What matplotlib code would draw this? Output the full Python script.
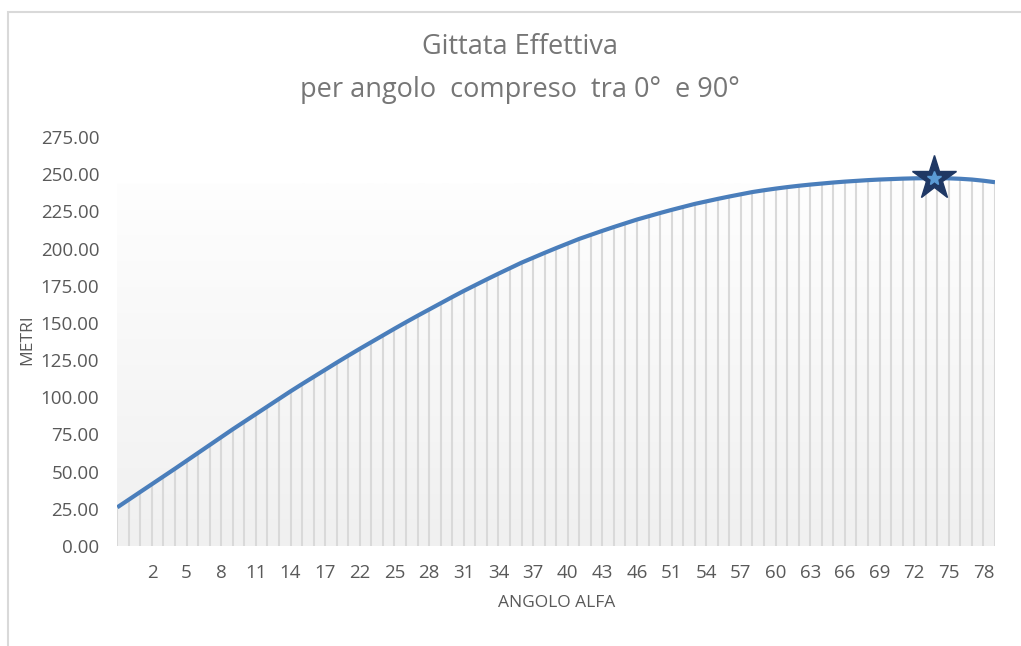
import matplotlib.pyplot as plt
import numpy as np
from matplotlib.patches import Rectangle
from matplotlib.colors import LinearSegmentedColormap

# gittata (metri) per ogni categoria di angolo
gittata = [26.0, 31.2, 36.4, 41.6, 46.8, 52.0, 57.3, 62.6, 67.9, 73.2,
           78.5, 83.6, 88.7, 93.8, 98.9, 104.0, 108.9, 113.7, 118.5, 123.3,
           128.0, 132.6, 137.1, 141.6, 146.1, 150.5, 154.8, 159.0, 163.2, 167.4,
           171.5, 175.4, 179.3, 183.1, 186.8, 190.5, 193.8, 197.1, 200.3, 203.4,
           206.5, 209.2, 211.9, 214.5, 217.0, 219.5, 221.7, 223.9, 226.0, 228.0,
           230.0, 231.7, 233.4, 235.0, 236.5, 238.0, 239.2, 240.3, 241.3, 242.2,
           243.0, 243.7, 244.4, 245.0, 245.5, 246.0, 246.4, 246.7, 247.0, 247.2,
           247.3, 247.4, 247.2, 246.9, 246.4, 245.6, 244.6]
tick_pos = [3, 6, 9, 12, 15, 18, 21, 24, 27, 30, 33, 36, 39, 42, 45, 48,
            51, 54, 57, 60, 63, 66, 69, 72, 75]
tick_lab = ["2", "5", "8", "11", "14", "17", "22", "25", "28", "31", "34", "37",
            "40", "43", "46", "51", "54", "57", "60", "63", "66", "69", "72",
            "75", "78"]
y_ticks = [0, 25, 50, 75, 100, 125, 150, 175, 200, 225, 250, 275]
max_idx = 71
grad_top = 244.0

plt.rcParams['font.family'] = ['Open Sans', 'DejaVu Sans']
txt_col = "#595959"

fig = plt.figure(figsize=(10.21, 6.46), dpi=100)
ax = fig.add_axes([117.3 / 1021, 100 / 646, 877.7 / 1021, 409 / 646])

x = np.arange(len(gittata))
n = len(gittata) - 1

# sfondo sfumato
cmap = LinearSegmentedColormap.from_list("sf", ["#f0f0f0", "#fefefe"])
grad = np.linspace(0, 1, 256).reshape(-1, 1)
ax.imshow(grad, extent=[0, n, 0, grad_top], origin="lower", aspect="auto",
          cmap=cmap, zorder=0)

# linee di proiezione
ax.vlines(x, 0, gittata, color="#d9d9d9", lw=1.5, zorder=1)

ax.plot(x, gittata, color="#4a7ebb", lw=3.0, solid_capstyle="butt", zorder=3)
ax.plot(x[max_idx] - 0.3, gittata[max_idx], marker="*", ms=33, color="#1f3864",
        mec="#1f3864", zorder=4)
ax.plot(x[max_idx] - 0.3, gittata[max_idx], marker="*", ms=10, color="#5b9bd5",
        mec="#5b9bd5", zorder=5)

ax.set_xlim(0, n)
ax.set_ylim(0, 275)
ax.set_yticks(y_ticks)
ax.set_yticklabels(["%.2f" % v for v in y_ticks])
ax.set_xticks(tick_pos)
ax.set_xticklabels(tick_lab)
ax.tick_params(axis="y", length=0, pad=13, labelsize=13.5, labelcolor=txt_col)
ax.tick_params(axis="x", length=0, pad=13, labelsize=13.5, labelcolor=txt_col)
for s in ax.spines.values():
    s.set_visible(False)

ax.set_xlabel("ANGOLO ALFA", fontsize=12.5, color=txt_col, labelpad=9)
fig.text(27 / 1021, 1 - 340 / 646, "METRI", rotation=90, ha="center",
         va="center", fontsize=12.5, color=txt_col)

fig.text(520 / 1021, 1 - 47 / 646, "Gittata Effettiva", ha="center",
         va="center", fontsize=19.5, color="#767676")
fig.text(520 / 1021, 1 - 90 / 646, "per angolo  compreso  tra 0°  e 90°",
         ha="center", va="center", fontsize=19.5, color="#767676")

# bordo dell'area grafico
fig.patches.append(Rectangle((8 / 1021, -0.1), 1.2, (646 - 12) / 646 + 0.1,
                             transform=fig.transFigure, fill=False,
                             ec="#d9d9d9", lw=1.5))

fig.savefig("out.png", dpi=100)
